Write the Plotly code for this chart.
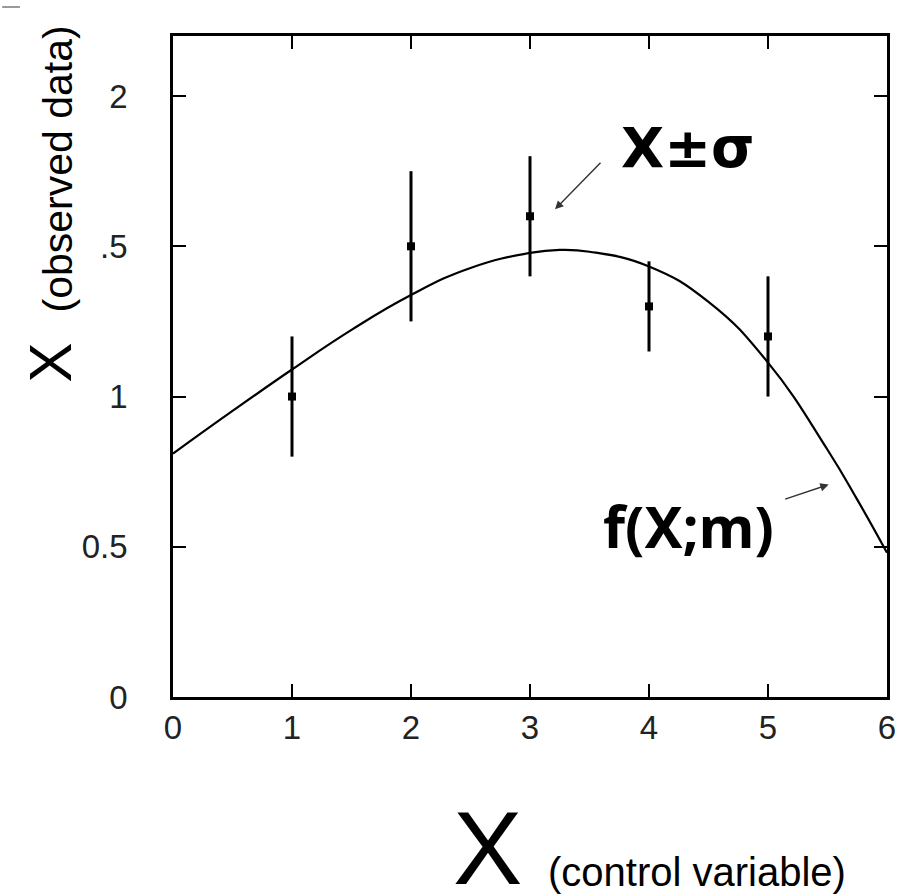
import plotly.graph_objects as go

# observed data points with symmetric errors
obs_x = [1, 2, 3, 4, 5]
obs_y = [1.0, 1.5, 1.6, 1.3, 1.2]
obs_err = [0.2, 0.25, 0.2, 0.15, 0.2]

# fitted curve f(X;m)
curve_x = [0, 0.5, 1, 1.5, 2, 2.5, 3, 3.25, 3.5, 4, 4.5, 5, 5.5, 5.75, 6]
curve_y = [0.81, 0.952, 1.09, 1.222, 1.338, 1.428, 1.478, 1.488, 1.482, 1.433, 1.315, 1.113, 0.823, 0.657, 0.48]

x_ticks = [0, 1, 2, 3, 4, 5, 6]
y_ticks = [0, 0.5, 1, 1.5, 2]
y_tick_text = ["0", "0.5", "1", ".5", "2"]

W, H = 905, 896
L, R, T, B = 173, 9, 36, 199
PW, PH = W - L - R, H - T - B


def px(xp):
    return (xp - L) / PW


def py(yp):
    return (H - B - yp) / PH


fig = go.Figure()
fig.add_trace(go.Scatter(
    x=curve_x, y=curve_y, mode="lines",
    line=dict(color="black", width=2.2, shape="spline", smoothing=1.3),
    hoverinfo="skip", showlegend=False,
))
fig.add_trace(go.Scatter(
    x=obs_x, y=obs_y, mode="markers",
    marker=dict(symbol="square", size=8, color="black"),
    error_y=dict(type="data", array=obs_err, visible=True, color="black", thickness=3, width=0),
    showlegend=False,
))

tick_font = dict(family="Liberation Sans, Arial, sans-serif", size=33, color="#222")
axis_common = dict(
    showline=True, linecolor="black", linewidth=2.5, mirror="ticks",
    ticks="inside", ticklen=13, tickwidth=2, tickcolor="black",
    showgrid=False, zeroline=False, tickfont=tick_font,
)
fig.update_xaxes(range=[0, 6], tickvals=x_ticks, ticktext=[str(v) for v in x_ticks],
                 ticklabelstandoff=0, **axis_common)
fig.update_yaxes(range=[0, 2.2], tickvals=y_ticks, ticktext=y_tick_text,
                 ticklabelstandoff=36, **axis_common)

title_font = "Liberation Sans, Arial, sans-serif"
annotations = [
    # y-axis title
    dict(text="X", x=px(49), y=py(363), xref="paper", yref="paper", showarrow=False,
         textangle=-90, xanchor="center", yanchor="middle",
         font=dict(family=title_font, size=60, color="black")),
    dict(text="(observed data)", x=px(57), y=py(169), xref="paper", yref="paper", showarrow=False,
         textangle=-90, xanchor="center", yanchor="middle",
         font=dict(family=title_font, size=41, color="black")),
    # x-axis title
    dict(text="X", x=px(491), y=py(848), xref="paper", yref="paper", showarrow=False,
         xanchor="center", yanchor="middle",
         font=dict(family=title_font, size=104, color="black")),
    dict(text="(control variable)", x=px(704), y=py(872), xref="paper", yref="paper", showarrow=False,
         xanchor="center", yanchor="middle",
         font=dict(family=title_font, size=40, color="black")),
    # labels inside the plot
    dict(text="<b>X±σ</b>", x=4.33, y=1.83, xref="x", yref="y", showarrow=False,
         xanchor="center", yanchor="middle",
         font=dict(family="DejaVu Sans", size=56, color="black")),
    dict(text="<b>f(X;m)</b>", x=4.33, y=0.57, xref="x", yref="y", showarrow=False,
         xanchor="center", yanchor="middle",
         font=dict(family="Noto Sans", size=57, color="black")),
    # arrows
    dict(text="", x=3.21, y=1.623, xref="x", yref="y", ax=47, ay=-48,
         showarrow=True, arrowhead=2, arrowsize=1.2, arrowwidth=1.4, arrowcolor="#333", standoff=0),
    dict(text="", x=5.51, y=0.707, xref="x", yref="y", ax=-45, ay=15,
         showarrow=True, arrowhead=2, arrowsize=1.2, arrowwidth=1.4, arrowcolor="#333", standoff=0),
]

fig.update_layout(
    width=W, height=H,
    margin=dict(l=L, r=R, t=T, b=B, pad=0),
    paper_bgcolor="white", plot_bgcolor="white",
    annotations=annotations,
    shapes=[dict(type="line", xref="paper", yref="paper", x0=px(0), x1=px(18), y0=py(7), y1=py(7),
                 line=dict(color="#999", width=2))],
    showlegend=False,
)

fig.write_html("out.html")
